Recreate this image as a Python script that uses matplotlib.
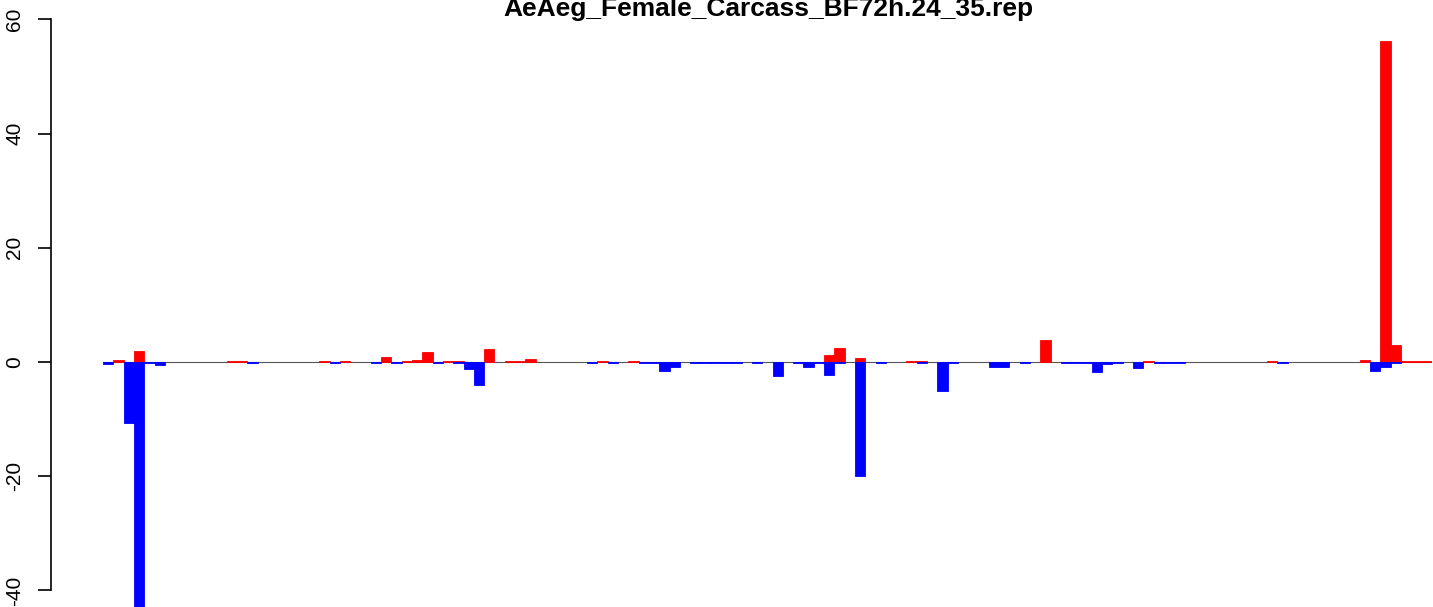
import numpy as np
import matplotlib
matplotlib.use("Agg")
import matplotlib.pyplot as plt

# === Données (une barre par position) ===
titre = "AeAeg_Female_Carcass_BF72h.24_35.rep"

rouge = [0, 0.3, 0, 2.0, 0, 0, 0, 0, 0, 0,
         0, 0, 0.15, 0.15, 0, 0, 0, 0, 0, 0,
         0, 0.15, 0, 0.15, 0, 0, 0, 0.9, 0, 0.25,
         0.4, 1.8, 0, 0.15, 0.25, 0, 0, 2.2, 0, 0.15,
         0.15, 0.6, 0, 0, 0, 0, 0, 0, 0.15, 0,
         0, 0.15, 0, 0, 0, 0, 0, 0, 0, 0,
         0, 0, 0, 0, 0, 0, 0, 0, 0, 0,
         1.3, 2.5, 0, 0.75, 0, 0, 0, 0, 0.15, 0.25,
         0, 0, 0, 0, 0, 0, 0, 0, 0, 0,
         0, 3.9, 0, 0, 0, 0, 0, 0, 0, 0,
         0, 0.15, 0, 0, 0, 0, 0, 0, 0, 0,
         0, 0, 0, 0.15, 0, 0, 0, 0, 0, 0,
         0, 0, 0.4, 0, 56.2, 2.9, 0.15, 0.25, 0.25]

bleu = [-0.3, 0, -10.6, -43.5, -0.15, -0.5, 0, 0, 0, 0,
        0, 0, 0, 0, -0.15, 0, 0, 0, 0, 0,
        0, 0, -0.15, 0, 0, 0, -0.15, 0, -0.15, 0,
        0, 0, -0.15, 0, -0.15, -1.2, -4.0, 0, 0, 0,
        0, 0, 0, 0, 0, 0, 0, -0.15, 0, -0.25,
        0, 0, -0.15, -0.15, -1.5, -0.8, 0, -0.25, -0.15, -0.15,
        -0.2, -0.2, 0, -0.15, 0, -2.5, 0, -0.15, -0.8, -0.15,
        -2.3, -0.2, 0, -20.0, 0, -0.15, 0, 0, 0, -0.15,
        0, -5.0, -0.2, 0, 0, 0, -0.95, -0.8, 0, -0.15,
        0, 0, 0, -0.15, -0.15, -0.15, -1.8, -0.4, -0.15, 0,
        -1.1, 0, -0.15, -0.15, -0.25, 0, 0, 0, 0, 0,
        0, 0, 0, 0, -0.25, 0, 0, 0, 0, 0,
        0, 0, 0, -1.5, -0.8, -0.25, 0, 0, 0]

graduations = [-40, -20, 0, 20, 40, 60]

# === Figure ===
W, H = 1433, 607
fig = plt.figure(figsize=(W / 100, H / 100), dpi=100)
plt.rcParams['font.family'] = ['Liberation Sans', 'DejaVu Sans']

n = len(rouge)
x = np.arange(n)
px_unite = 5.711   # pixels par unité
zero_y = 362

ax = fig.add_axes([103 / W, 0, 10.3 * n / W, 1])
ax.set_xlim(0, n)
ax.set_ylim(-(H - zero_y) / px_unite, zero_y / px_unite)

ax.axhline(0, color="#555555", lw=0.8, zorder=1)
# bord de la même couleur pour que les barres minuscules recouvrent la ligne
for vals, c in [(rouge, "#FF0000"), (bleu, "#0000FF")]:
    v = np.array(vals, dtype=float)
    m = v != 0
    ax.bar(x[m], v[m], width=1.0, align="edge", color=c,
           edgecolor=c, linewidth=0.6, zorder=2)

for s in ["top", "right", "bottom"]:
    ax.spines[s].set_visible(False)
ax.spines["left"].set_position(("outward", 52 * 0.72))
ax.spines["left"].set_bounds(-40, 60)
ax.spines["left"].set_linewidth(1.2)
ax.set_xticks([])
ax.set_yticks(graduations)
ax.set_yticklabels([str(g) for g in graduations], rotation=90, va="center")
ax.tick_params(axis="y", length=9.1, width=1.2, pad=10, labelsize=15)

fig.text(768 / W, 1 - 16 / H, titre, ha="center", va="baseline",
         fontsize=19, fontweight="bold")

fig.savefig("out.png", dpi=100)
